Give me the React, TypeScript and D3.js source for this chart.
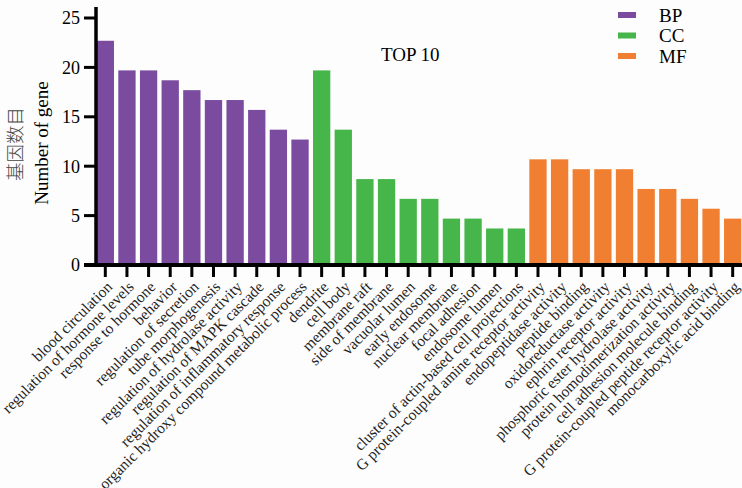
import React from "react";
import * as d3 from "d3";

const bpTerms = [
  "blood circulation",
  "regulation of hormone levels",
  "response to hormone",
  "behavior",
  "regulation of secretion",
  "tube morphogenesis",
  "regulation of hydrolase activity",
  "regulation of MAPK cascade",
  "regulation of inflammatory response",
  "organic hydroxy compound metabolic process",
];
const bpCounts = [23, 20, 20, 19, 18, 17, 17, 16, 14, 13];

const ccTerms = [
  "dendrite",
  "cell body",
  "membrane raft",
  "side of membrane",
  "vacuolar lumen",
  "early endosome",
  "nuclear membrane",
  "focal adhesion",
  "endosome lumen",
  "cluster of actin-based cell projections",
];
const ccCounts = [20, 14, 9, 9, 7, 7, 5, 5, 4, 4];

const mfTerms = [
  "G protein-coupled amine receptor activity",
  "endopeptidase activity",
  "peptide binding",
  "oxidoreductase activity",
  "ephrin receptor activity",
  "phosphoric ester hydrolase activity",
  "protein homodimerization activity",
  "cell adhesion molecule binding",
  "G protein-coupled peptide receptor activity",
  "monocarboxylic acid binding",
];
const mfCounts = [11, 11, 10, 10, 10, 8, 8, 7, 6, 5];

const groups = ["BP", "CC", "MF"];
const groupColors = ["#7a4b9f", "#46b54a", "#f07f31"];
const yTicks = [0, 5, 10, 15, 20, 25];

type Row = { term: string; count: number; group: string };

const rows: Row[] = [
  ...bpTerms.map((t, i) => ({ term: t, count: bpCounts[i], group: "BP" })),
  ...ccTerms.map((t, i) => ({ term: t, count: ccCounts[i], group: "CC" })),
  ...mfTerms.map((t, i) => ({ term: t, count: mfCounts[i], group: "MF" })),
];

const W = 742;
const H = 488;
const FONT = "'Liberation Serif', 'Times New Roman', serif";

export default function App() {
  const x = d3
    .scaleBand<string>()
    .domain(rows.map((r) => r.term))
    .range([94.5, 743.5])
    .paddingInner(0.2)
    .paddingOuter(0.1);
  const y = d3.scaleLinear().domain([0, 25]).range([265, 18]);
  const color = d3.scaleOrdinal<string, string>().domain(groups).range(groupColors);

  const axisX = 96;
  const axisY = 265;

  return (
    <svg
      width={W}
      height={H}
      style={{ position: "absolute", left: 0, top: 0, background: "#fdfdfd" }}
      fontFamily={FONT}
    >
      {/* bars */}
      {rows.map((r) => (
        <rect
          key={r.term}
          x={x(r.term)}
          y={y(r.count) + 3}
          width={x.bandwidth()}
          height={axisY - y(r.count) - 3}
          fill={color(r.group)}
        />
      ))}

      {/* y axis */}
      <line x1={axisX} x2={axisX} y1={7} y2={axisY + 2} stroke="#000" strokeWidth={3.5} />
      {yTicks.map((t) => (
        <g key={t} transform={`translate(0,${y(t)})`}>
          <line x1={84} x2={axisX} stroke="#000" strokeWidth={3} />
          <text x={80} dy="0.36em" textAnchor="end" fontSize={18}>
            {t}
          </text>
        </g>
      ))}

      {/* x axis */}
      <line x1={axisX - 12} x2={W} y1={axisY} y2={axisY} stroke="#000" strokeWidth={4} />
      {rows.map((r) => {
        const cx = (x(r.term) ?? 0) + x.bandwidth() / 2;
        return (
          <g key={r.term}>
            <line x1={cx} x2={cx} y1={axisY} y2={277} stroke="#000" strokeWidth={3} />
            <text
              transform={`translate(${cx + 4},${284}) rotate(-45)`}
              textAnchor="end"
              dy="0.35em"
              fontSize={15.5}
              fill="#222"
            >
              {r.term}
            </text>
          </g>
        );
      })}

      {/* y axis title */}
      <text
        transform={`translate(22,144) rotate(-90)`}
        textAnchor="middle"
        fontSize={18.5}
        fill="#444"
        fontFamily="'Noto Sans CJK SC', sans-serif"
        fontWeight={300}
      >
        基因数目
      </text>
      <text transform={`translate(48,143) rotate(-90)`} textAnchor="middle" fontSize={19}>
        Number of gene
      </text>

      {/* title */}
      <text x={381} y={61} fontSize={19}>
        TOP 10
      </text>

      {/* legend */}
      {groups.map((g, i) => (
        <g key={g} transform={`translate(618,${15 + i * 20.5})`}>
          <rect x={0} y={-3} width={18} height={6} fill={color(g)} />
          <text x={41} dy="0.36em" fontSize={19}>
            {g}
          </text>
        </g>
      ))}
    </svg>
  );
}
